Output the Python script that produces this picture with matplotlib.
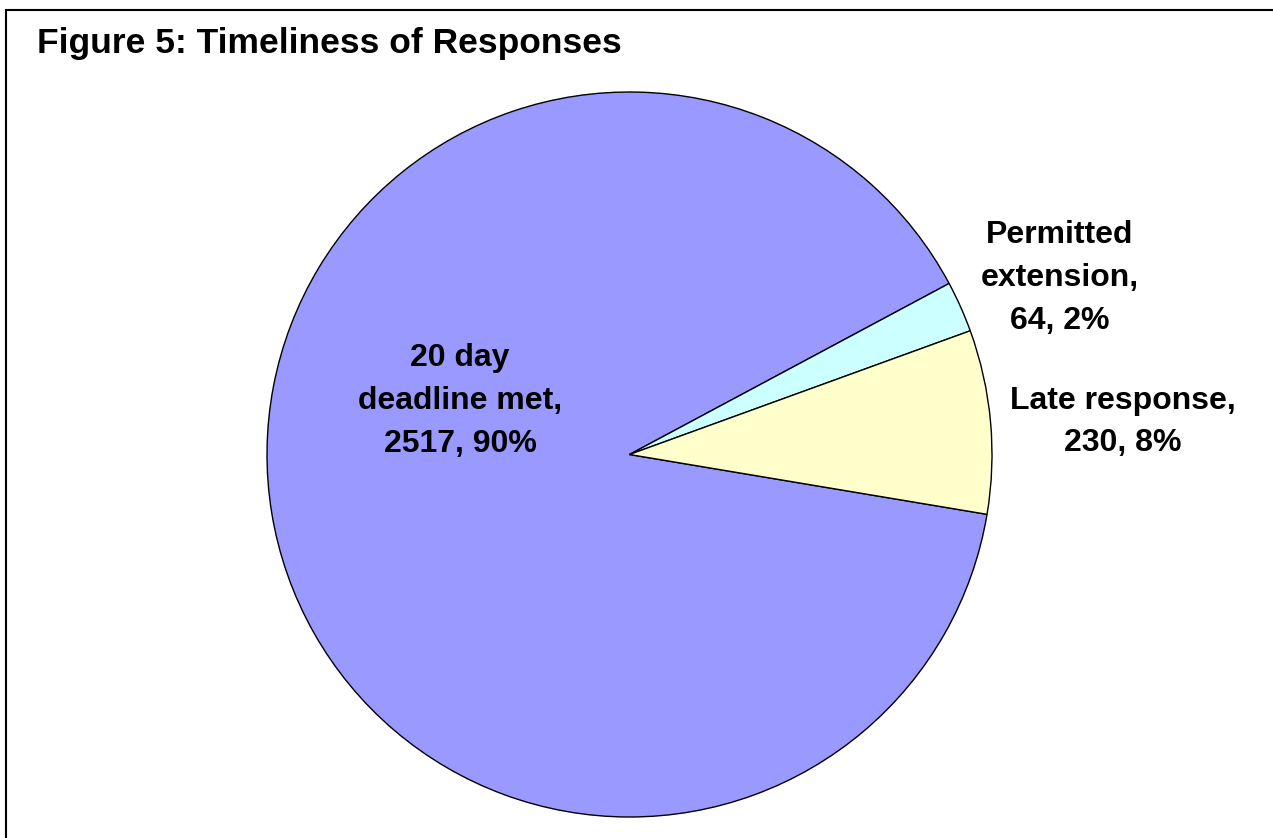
import matplotlib
matplotlib.use("Agg")
import matplotlib.pyplot as plt
from matplotlib.patches import Rectangle

categories = ["20 day\ndeadline met", "Permitted\nextension", "Late response"]
values = [2517, 64, 230]
colors = ["#9999FF", "#CCFFFF", "#FFFFCC"]
title = "Figure 5: Timeliness of Responses"

plt.rcParams['font.family'] = ['Liberation Sans', 'DejaVu Sans']

W, H = 1273, 838
fig = plt.figure(figsize=(W / 100, H / 100), dpi=100)
fig.patch.set_facecolor("white")

# frame
fig.add_artist(Rectangle((6 / W, -0.05), 1.1, (H - 10) / H + 0.05, transform=fig.transFigure,
                         fill=False, edgecolor="black", linewidth=1.5))

fig.text(37 / W, 1 - 43 / H, title, fontsize=25.5, fontweight="bold", ha="left", va="center")

cx, cy, r = 629.5, 454.5, 362.5
ax = fig.add_axes([(cx - r) / W, (H - cy - r) / H, 2 * r / W, 2 * r / H])
ax.pie(values, colors=colors, startangle=-9.5, counterclock=False, radius=1,
       wedgeprops=dict(edgecolor="black", linewidth=1.0))
ax.set_xlim(-1, 1)
ax.set_ylim(-1, 1)
ax.set_aspect("equal")
ax.axis("off")

total = sum(values)
label_px = [(460, 401), (1060, 278), (1123, 422)]
for cat, v, (px, py) in zip(categories, values, label_px):
    pct = round(100 * v / total)
    txt = f"{cat},\n{v}, {pct}%"
    ax.text((px - cx) / r, (cy - py) / r, txt, ha="center", va="center",
            fontsize=23, fontweight="bold", linespacing=1.55)

fig.savefig("out.png", dpi=100)
